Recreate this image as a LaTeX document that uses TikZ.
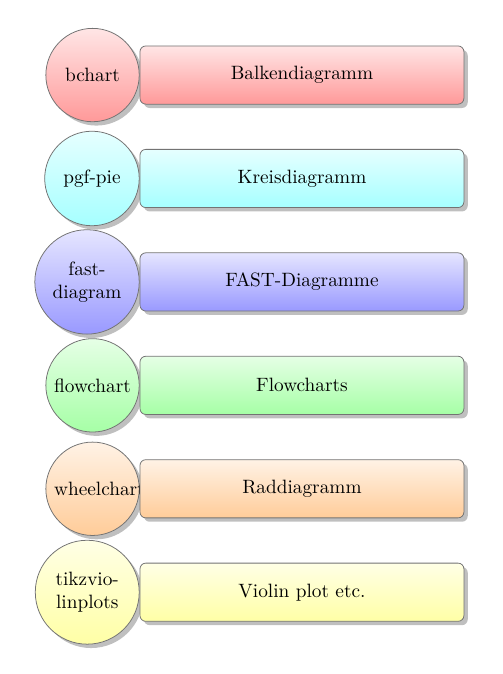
\documentclass[tikz,border=0pt]{standalone}
\usetikzlibrary{positioning, shadows, backgrounds}

\begin{document}
\begin{tikzpicture}[node distance=0.81cm,
    pkg/.style={draw=black!55, rectangle, rounded corners=3pt, minimum width=5.9cm, minimum height=1.06cm, align=center, drop shadow={shadow xshift=2pt, shadow yshift=-2pt}},
    lib/.style={draw=black!55, circle, minimum size=1.68cm, text width=1.4cm, align=center, drop shadow={shadow xshift=2pt, shadow yshift=-2pt}}]
    \useasboundingbox (-5.50,1.367) rectangle (3.65,-10.91);
    \node[pkg, top color=red!10, bottom color=red!40] (r1) {Balkendiagramm};
    \node[pkg, below=of r1, top color=cyan!10, bottom color=cyan!35] (r2) {Kreisdiagramm};
    \node[pkg, below=of r2, top color=blue!10, bottom color=blue!40] (r3) {FAST-Diagramme};
    \node[pkg, below=of r3, top color=green!10, bottom color=green!35] (r4) {Flowcharts};
    \node[pkg, below=of r4, top color=orange!10, bottom color=orange!40] (r5) {Raddiagramm};
    \node[pkg, below=of r5, top color=yellow!10, bottom color=yellow!35] (r6) {Violin plot etc.};
    \begin{scope}[on background layer]
        \node[lib, left=0pt of r1, top color=red!10, bottom color=red!40] (c1) {bchart};
        \node[lib, left=0pt of r2, top color=cyan!10, bottom color=cyan!35] (c2) {pgf-pie};
        \node[lib, left=0pt of r3, top color=blue!10, bottom color=blue!40] (c3) {fast-\\diagram};
        \node[lib, left=0pt of r4, top color=green!10, bottom color=green!35] (c4) {flowchart};
        \node[lib, left=0pt of r5, top color=orange!10, bottom color=orange!40] (c5) {wheelchart};
        \node[lib, left=0pt of r6, top color=yellow!10, bottom color=yellow!35] (c6) {tikzvio-\\linplots};
    \end{scope}
\end{tikzpicture}
\end{document}
